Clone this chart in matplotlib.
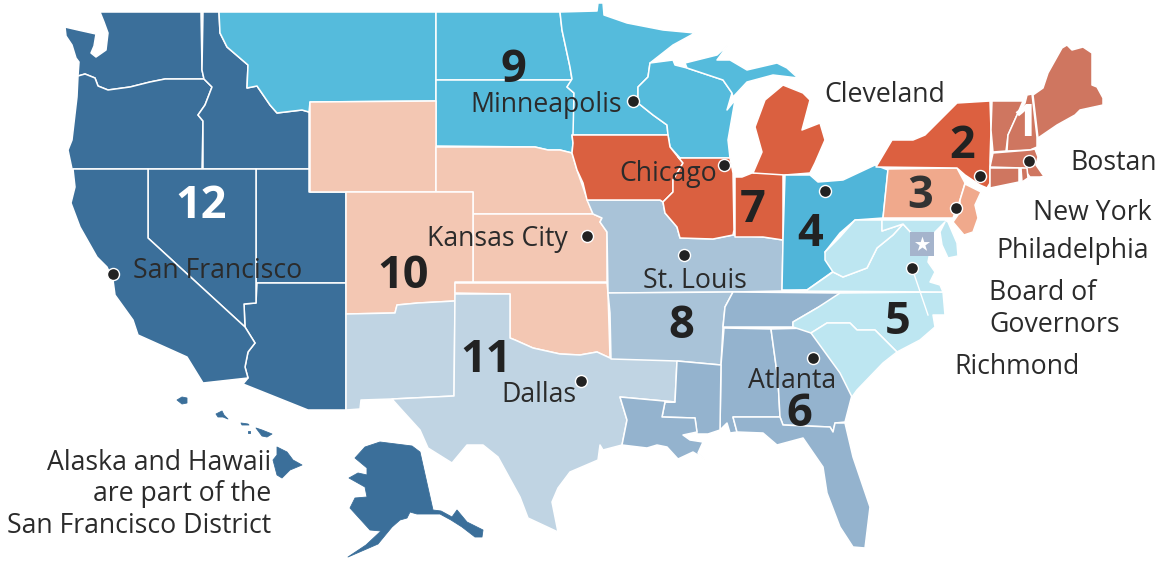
import matplotlib
matplotlib.use("Agg")
import matplotlib.pyplot as plt
from matplotlib.patches import Polygon

plt.rcParams['font.family'] = ['Open Sans', 'DejaVu Sans']

# ---------- district colours ----------
DISTRICT_COLORS = {1: '#cf7660', 2: '#dc6040', 3: '#f0a98c', 4: '#50b5d9', 5: '#bde6f1', 6: '#94b3ce',
                   7: '#da6040', 8: '#a9c3d8', 9: '#55bbdc', 10: '#f3c7b3', 11: '#c0d4e3', 12: '#3b6f9a'}

# ---------- state outlines ----------
WA = [(100,12),(201,12),(202,70),(204,79),(165,79),(150,82),(130,87),(108,90),(98,86),(95,78),(85,74),(78,76),(79,62),(76,58),(72,45),(66,36),(65,27),(78,30),(96,34),(94,46),(91,53),(96,57),(106,50),(108,33),(104,22)]
OR = [(78,76),(85,74),(95,78),(98,86),(108,90),(130,87),(150,82),(165,79),(204,79),(212,87),(205,105),(198,115),(203,121),(202,169),(72,169),(68,150),(72,140),(77,97)]
ID = [(203,12),(219,12),(220,33),(227,47),(248,65),(247,88),(257,86),(270,105),(277,113),(302,110),(309,112),(309,169),(203,169),(203,121),(198,115),(205,105),(212,87),(204,79),(202,70)]
MT = [(219,12),(436,12),(436,101),(310,102),(309,112),(302,110),(277,113),(270,105),(257,86),(247,88),(248,65),(227,47),(220,33)]
WY = [(310,102),(436,101),(436,192),(310,192)]
UT = [(256,169),(309,169),(309,192),(346,192),(346,283),(256,283)]
AZ = [(257,283),(346,283),(346,410),(308,410),(243,384),(248,378),(245,367),(248,352),(255,343),(245,327),(244,304),(256,303)]
NV = [(148,169),(256,169),(256,303),(244,304),(245,327),(148,238)]
CA = [(73,169),(148,169),(148,238),(245,327),(255,343),(248,352),(245,367),(248,378),(203,383),(187,357),(167,348),(138,335),(133,320),(115,295),(113,280),(107,267),(97,257),(80,227),(71,203),(75,187)]
HI1 = [(177,400),(182,397),(187,398),(187,403),(182,404)]
HI2 = [(216,414),(222,411),(224,415),(228,419),(223,417),(218,417)]
HI3 = [(241,423),(248,424),(249,425),(242,425)]
HI4 = [(248,431),(250,431),(250,433),(248,433)]
HI5 = [(256,428),(262,430),(272,434),(267,437),(262,436)]
HI6 = [(277,447),(287,452),(293,460),(302,465),(290,470),(282,478),(277,475),(273,460),(277,455)]
AK = [(355,458),(365,447),(380,442),(412,446),(420,452),(433,510),(441,511),(452,517),(457,510),(467,522),(483,530),(482,537),(475,537),(462,527),(451,520),(440,514),(432,514),(417,514),(410,512),(407,518),(400,520),(392,527),(378,544),(348,557),(366,545),(381,531),(370,530),(350,508),(355,498),(367,497),(365,487),(349,478),(358,473),(367,475),(367,468)]
ND = [(436,12),(560,12),(562,30),(570,67),(572,80),(436,80)]
SD = [(436,80),(572,80),(567,87),(574,93),(574,135),(572,135),(573,143),(572,153),(560,150),(548,150),(535,147),(436,146)]
NE = [(436,147),(535,147),(548,150),(560,150),(572,153),(577,170),(585,193),(593,214),(473,214),(473,192),(436,192)]
KS = [(473,214),(593,214),(602,218),(600,222),(607,232),(607,282),(473,282)]
CO = [(346,192),(473,192),(473,282),(455,282),(455,301),(418,303),(397,305),(395,313),(346,314)]
NM = [(346,314),(395,313),(397,305),(418,303),(455,301),(454,396),(392,399),(361,400),(360,409),(346,410)]
OK = [(455,283),(607,283),(608,293),(610,358),(597,352),(580,355),(560,354),(533,348),(515,340),(510,338),(510,294),(455,293)]
TX = [(455,294),(510,294),(510,338),(515,340),(533,348),(560,354),(580,355),(597,352),(610,358),(677,360),(675,402),(620,397),(627,420),(622,445),(603,450),(600,445),(598,460),(570,472),(558,488),(552,502),(558,532),(528,518),(520,497),(498,457),(483,445),(467,445),(452,463),(428,448),(420,430),(400,408),(392,399),(454,396)]
MO = [(587,200),(660,200),(663,202),(665,213),(677,227),(680,238),(713,239),(733,235),(763,237),(783,240),(782,291),(733,292),(608,293),(607,232),(600,222),(602,218),(593,214)]
AR = [(608,293),(733,292),(725,307),(723,327),(721,365),(677,361),(611,359),(610,313)]
MS = [(677,361),(721,365),(720,430),(708,434),(697,434),(695,418),(662,417),(665,402),(675,402)]
LA = [(620,397),(675,402),(665,402),(662,417),(695,418),(697,432),(683,435),(690,440),(703,442),(698,453),(706,460),(693,452),(678,459),(667,447),(657,445),(647,448),(622,445),(627,420)]
AL = [(724,328),(771,329),(778,380),(780,417),(733,417),(737,432),(730,433),(727,423),(720,430),(721,365)]
GA = [(771,329),(812,328),(812,333),(830,357),(847,380),(852,395),(845,422),(835,423),(833,432),(830,427),(783,425),(780,417),(778,380)]
FL = [(733,417),(780,417),(783,425),(830,427),(833,432),(835,423),(845,423),(853,457),(870,507),(865,548),(853,547),(840,527),(827,493),(823,467),(803,438),(777,445),(763,433),(737,432)]
TN = [(733,292),(840,293),(833,300),(817,308),(793,322),(793,327),(723,327),(725,307)]
NC = [(793,322),(817,308),(840,293),(943,292),(945,315),(933,315),(935,327),(920,340),(897,352),(875,330),(857,330),(850,323),(827,323),(811,333),(793,327)]
SC = [(811,333),(827,323),(850,323),(857,330),(875,330),(897,352),(883,363),(857,390),(852,397),(840,373)]
VA = [(782,291),(807,290),(833,272),(843,277),(867,268),(877,248),(893,235),(903,224),(915,237),(930,252),(928,262),(935,272),(930,282),(940,285),(943,292)]
WV = [(855,220),(882,220),(882,231),(903,224),(893,235),(877,248),(867,268),(843,277),(833,272),(825,260),(825,252),(840,237)]
MD = [(882,220),(945,220),(948,222),(957,243),(958,256),(948,258),(942,245),(940,232),(945,222),(935,232),(930,250),(915,237),(903,224),(882,231)]
OH = [(785,175),(810,175),(818,182),(843,180),(875,165),(888,170),(883,218),(855,220),(840,233),(825,252),(835,270),(807,290),(782,290),(783,240)]
PA = [(888,169),(957,168),(965,183),(960,200),(953,218),(883,218)]
NJ = [(965,184),(981,192),(975,205),(978,218),(973,232),(964,235),(953,222),(960,212),(960,200)]
NY = [(876,167),(892,140),(913,140),(925,135),(940,120),(957,103),(990,101),(991,130),(990,160),(990,183),(987,188),(980,185),(965,175),(957,168)]
VT = [(992,101),(1023,101),(1017,115),(1008,135),(1006,151),(993,152),(991,130)]
NH = [(1027,95),(1032,94),(1037,137),(1037,147),(1030,150),(1007,151),(1008,135),(1017,115),(1025,103)]
ME = [(1033,95),(1043,88),(1048,73),(1062,48),(1067,45),(1072,50),(1083,47),(1092,53),(1092,85),(1097,87),(1103,98),(1103,105),(1080,110),(1075,115),(1057,125),(1038,138)]
MA = [(993,153),(1030,150),(1035,149),(1038,157),(1036,165),(1043,175),(1052,175),(1040,177),(1030,177),(1023,168),(990,167)]
CT = [(990,168),(1019,168),(1019,182),(990,188)]
RI = [(1021,168),(1027,168),(1028,178),(1022,182)]
MN = [(560,12),(597,11),(598,3),(603,3),(604,15),(627,23),(663,30),(695,33),(673,45),(650,63),(648,77),(638,87),(638,103),(653,115),(667,125),(668,135),(573,135),(574,93),(567,87),(572,79),(570,67),(562,30)]
WI = [(650,63),(673,60),(675,65),(687,68),(723,80),(732,93),(727,110),(735,100),(728,140),(730,158),(680,158),(670,147),(668,135),(667,125),(653,115),(638,103),(638,87),(648,77)]
UP = [(687,68),(685,63),(717,55),(728,45),(717,60),(730,60),(747,70),(777,63),(787,68),(798,78),(773,75),(747,82),(733,97),(732,93),(723,80)]
IA = [(572,135),(668,135),(670,147),(678,157),(683,163),(673,180),(673,192),(663,202),(660,200),(587,200),(583,183),(577,170),(572,153),(573,143)]
IL = [(680,158),(730,158),(733,173),(734,230),(733,235),(713,239),(680,238),(677,227),(665,213),(663,202),(673,192),(673,180),(683,163),(678,157)]
IN = [(735,177),(742,177),(752,173),(783,173),(783,240),(763,237),(735,237)]
LP = [(753,173),(762,152),(755,127),(765,100),(783,85),(803,93),(810,100),(802,130),(820,123),(825,140),(815,163),(810,173),(785,175)]

DISTRICT_STATES = {
    12: [WA, OR, ID, UT, AZ, NV, CA],
    9: [MT, ND, SD, MN, WI, UP],
    10: [WY, NE, KS, CO, OK],
    11: [NM, TX],
    8: [MO, AR],
    6: [TN, AL, GA, FL, MS, LA],
    7: [IA, IL, IN, LP],
    4: [OH],
    3: [PA, NJ],
    2: [NY],
    1: [VT, NH, ME, MA, CT, RI],
    5: [NC, SC, VA, WV, MD],
}
OFFSHORE = [HI1, HI2, HI3, HI4, HI5, HI6, AK]

# ---------- labels ----------
DISTRICT_NUMBERS = ['12', '9', '2', '1', '3', '7', '4', '5', '10', '8', '11', '6']
NUMBER_X = [201, 513, 962, 1025, 920, 753, 810, 898, 403, 681, 486, 799]
NUMBER_Y = [206, 70, 146, 124, 196, 211, 235, 323, 276, 326, 361, 415]
NUMBER_COLORS = ['white', '#222222', '#222222', 'white', '#333333', '#222222', '#222222', '#222222', '#222222', '#222222', '#222222', '#222222']

CITY_NAMES = ['San Francisco', 'Minneapolis', 'Cleveland', 'Bostan', 'New York', 'Philadelphia', 'Board of', 'Governors',
              'Richmond', 'Chicago', 'Kansas City', 'St. Louis', 'Dallas', 'Atlanta',
              'Alaska and Hawaii', 'are part of the', 'San Francisco District']
CITY_X = [218, 546, 885, 1114, 1092, 1073, 1043, 1055, 1017, 668, 497, 695, 539, 792, 271, 271, 271]
CITY_Y = [271, 105, 95, 163, 213, 251, 293, 325, 367, 174, 239, 281, 395, 381, 463, 494, 526]
CITY_HA = ['center'] * 14 + ['right'] * 3

DOT_X = [113, 633, 724, 587, 684, 581, 813, 825, 912, 956, 980, 1029]
DOT_Y = [274, 101, 165, 236, 255, 381, 358, 191, 268, 208, 176, 161]
STAR_X = [922]
STAR_Y = [244]

fig = plt.figure(figsize=(11.6, 5.62), dpi=100)
ax = fig.add_axes([0, 0, 1, 1])
ax.set_xlim(0, 1160)
ax.set_ylim(562, 0)
ax.axis('off')

for district, states in DISTRICT_STATES.items():
    for outline in states:
        ax.add_patch(Polygon(outline, closed=True, facecolor=DISTRICT_COLORS[district],
                             edgecolor='white', linewidth=1.1, joinstyle='round', zorder=2))
for outline in OFFSHORE:
    ax.add_patch(Polygon(outline, closed=True, facecolor=DISTRICT_COLORS[12],
                         edgecolor=DISTRICT_COLORS[12], linewidth=0.6, joinstyle='round', zorder=2))

# white line running south from the Richmond dot
ax.plot([DOT_X[8], 928], [DOT_Y[8], 315], color='white', lw=1, zorder=3)

for n, x, y, c in zip(DISTRICT_NUMBERS, NUMBER_X, NUMBER_Y, NUMBER_COLORS):
    ax.text(x, y, n, color=c, fontsize=32.5, fontweight='bold', ha='center', va='center', zorder=6)

for n, x, y, ha in zip(CITY_NAMES, CITY_X, CITY_Y, CITY_HA):
    ax.text(x, y, n, color='#2b2b2b', fontsize=19.2, ha=ha, va='center', zorder=5)

ax.scatter(DOT_X, DOT_Y, s=75, c='#222222', edgecolors='white', linewidths=1.0, zorder=7)
ax.scatter(STAR_X, STAR_Y, s=300, marker='s', c='#a5b4cc', linewidths=0, zorder=4)
ax.scatter(STAR_X, STAR_Y, s=130, marker='*', c='white', linewidths=0, zorder=5)

fig.savefig('out.png', dpi=100, facecolor='white')
